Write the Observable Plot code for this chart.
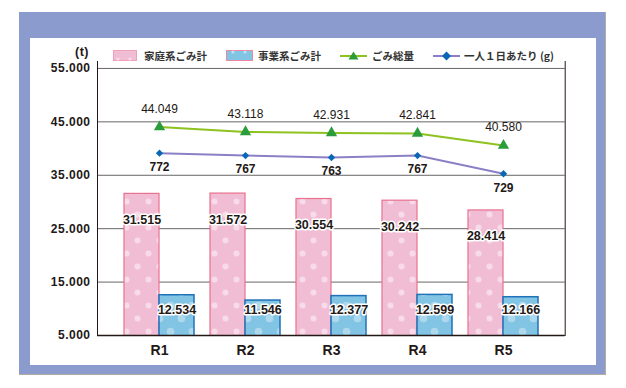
<!DOCTYPE html>
<html><head><meta charset="utf-8">
<script src="https://cdn.jsdelivr.net/npm/d3@7"></script>
<script src="https://cdn.jsdelivr.net/npm/@observablehq/plot@0.6"></script>
<style>
body{margin:0;width:626px;height:388px;position:relative;background:#fff;overflow:hidden;font-family:"Liberation Sans",Arial,sans-serif;}
#outer{position:absolute;left:19px;top:12px;width:586px;height:362px;background:#8c9bcd;border-right:1px solid #b3aca6;border-bottom:1px solid #b3aca6;}
#inner{position:absolute;left:30px;top:38px;width:566px;height:327px;background:#fff;}
#chart{position:absolute;left:0;top:0;}
.lg{position:absolute;top:50px;height:12px;font:bold 10.5px "Noto Sans CJK JP",sans-serif;color:#333;line-height:12px;white-space:nowrap}
.sw{position:absolute;top:50px;}
#unit{position:absolute;left:75px;top:45px;font:bold 12.5px "Liberation Sans",Arial,sans-serif;color:#231815;letter-spacing:0.5px;}
</style></head>
<body>
<div id="outer"></div>
<div id="inner"></div>
<div id="chart"></div>
<div id="unit">(t)</div>
<svg class="sw" style="left:113px" width="24" height="11"><rect x="0.5" y="0.5" width="23" height="10" fill="#f1bdd5" stroke="#ef9fb6"/><circle cx="5" cy="9" r="1.6" fill="#fff" fill-opacity=".5"/><circle cx="17" cy="9" r="1.6" fill="#fff" fill-opacity=".5"/></svg>
<div class="lg" style="left:144px">家庭系ごみ計</div>
<svg class="sw" style="left:226px" width="27" height="11"><rect x="0.5" y="0.5" width="26" height="10" fill="#82c4e4" stroke="#e88aa4"/><circle cx="7" cy="2" r="1.6" fill="#fff" fill-opacity=".5"/><circle cx="19" cy="2" r="1.6" fill="#fff" fill-opacity=".5"/></svg>
<div class="lg" style="left:258px">事業系ごみ計</div>
<svg class="sw" style="left:340px" width="27" height="11"><line x1="0" y1="6" x2="27" y2="6" stroke="#8dc21f" stroke-width="2"/><path d="M13.5,1.5 L18.5,9.5 L8.5,9.5Z" fill="#2a9d3a"/></svg>
<div class="lg" style="left:372px">ごみ総量</div>
<svg class="sw" style="left:433px" width="27" height="11"><line x1="0" y1="6" x2="27" y2="6" stroke="#8b80c6" stroke-width="2"/><path d="M13.5,1.5 L18,6 L13.5,10.5 L9,6Z" fill="#0868b5"/></svg>
<div class="lg" style="left:464px">一人１日あたり (g)</div>
<script>
const categories = ["R1","R2","R3","R4","R5"];
const household = [31515,31572,30554,30242,28414];
const business = [12534,11546,12377,12599,12166];
const total = [44049,43118,42931,42841,40580];
const perPerson = [772,767,763,767,729];
const yTicks = [5000,15000,25000,35000,45000,55000];

const rows = categories.map((c,i)=>({cat:c, home:household[i], biz:business[i], total:total[i], g:perPerson[i]}));
const fmt = v => d3.format(",")(v).replace(/,/g,".");
// secondary (g) axis mapped onto the t axis
const gToT = d3.scaleLinear().domain([391,949]).range([5000,55000]);
const half = 35;
const ink = "#231815";

const chart = Plot.plot({
  width:626, height:388,
  marginLeft:97, marginRight:61.3, marginTop:61, marginBottom:53,
  style:{background:"transparent", fontFamily:"Liberation Sans, Arial, sans-serif", color:ink, overflow:"visible"},
  x:{type:"band", domain:categories, paddingInner:0.19, paddingOuter:0.3, label:null},
  y:{domain:[5000,56300], label:null},
  marks:[
    Plot.gridY(yTicks, {stroke:"#666", strokeOpacity:1, strokeWidth:1}),
    Plot.barY(rows,{x:"cat", y:"home", fill:"url(#pinkDots)", stroke:"#e8718e", strokeWidth:1.2, insetRight:half, clip:true}),
    Plot.barY(rows,{x:"cat", y:"biz", fill:"url(#blueDots)", stroke:"#1f72b8", strokeWidth:1.5, insetLeft:half, clip:true}),
    Plot.frame({anchor:"left", stroke:ink}),
    Plot.frame({anchor:"right", stroke:ink}),
    Plot.ruleY([5000], {stroke:ink, strokeWidth:1.6}),
    Plot.axisY(yTicks, {tickSize:0, tickPadding:7, tickFormat:fmt, fontSize:12, fontWeight:"bold", label:null}),
    Plot.axisX({tickSize:0, tickPadding:10, fontSize:14, fontWeight:"bold", label:null}),
    Plot.line(rows,{x:"cat", y:"total", stroke:"#8dc21f", strokeWidth:2}),
    Plot.dot(rows,{x:"cat", y:"total", symbol:"triangle", r:4.2, fill:"#2a9d3a"}),
    Plot.line(rows,{x:"cat", y:d=>gToT(d.g), stroke:"#8b80c6", strokeWidth:2}),
    Plot.dot(rows,{x:"cat", y:d=>gToT(d.g), symbol:"diamond2", r:3.3, fill:"#0868b5"}),
    Plot.text(rows,{x:"cat", y:"total", text:d=>fmt(d.total), dy:-18, fontSize:12, fill:ink}),
    Plot.text(rows,{x:"cat", y:d=>gToT(d.g), text:d=>String(d.g), dy:14, fontSize:12, fontWeight:"bold", fill:ink}),
    Plot.text(rows,{x:"cat", y:"home", text:d=>fmt(d.home), dx:-half/2, dy:26, fontSize:12.5, fontWeight:"bold", fill:ink, stroke:"white", strokeWidth:3}),
    Plot.text(rows,{x:"cat", frameAnchor:"bottom", text:d=>fmt(d.biz), dx:half/2, dy:-21.5, fontSize:12.5, fontWeight:"bold", fill:ink, stroke:"white", strokeWidth:3})
  ]
});

const defs = d3.select(chart).insert("defs", ":first-child");
function dots(id, base, r, op){
  const p = defs.append("pattern").attr("id", id).attr("patternUnits","userSpaceOnUse").attr("width",22).attr("height",26);
  p.append("rect").attr("width",22).attr("height",26).attr("fill",base);
  p.append("circle").attr("cx",5.5).attr("cy",6.5).attr("r",r).attr("fill","#fff").attr("fill-opacity",op);
  p.append("circle").attr("cx",16.5).attr("cy",19.5).attr("r",r).attr("fill","#fff").attr("fill-opacity",op);
}
dots("pinkDots", "#f1bdd5", 3, 0.45);
dots("blueDots", "#82c4e4", 3.8, 0.35);
d3.select(chart).selectAll("g[aria-label='y-axis tick label'] text").style("letter-spacing","0.5px");
document.getElementById("chart").appendChild(chart);
</script>
</body></html>
